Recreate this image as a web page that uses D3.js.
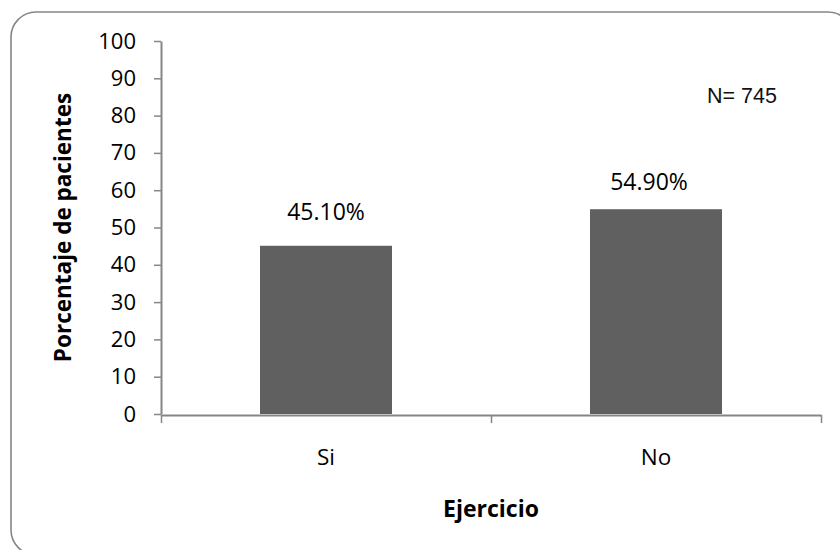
<!DOCTYPE html>
<html>
<head>
<meta charset="utf-8">
<script src="https://cdn.jsdelivr.net/npm/d3@7"></script>
<style>
  html, body { margin: 0; padding: 0; background: #fff; }
  svg { display: block; }
</style>
</head>
<body>
<svg id="chart" width="840" height="550"></svg>
<script>
// Chart data
const categories = ["Si", "No"];
const percentages = [45.1, 54.9];
const valueLabels = ["45.10%", "54.90%"];
const yTicks = [0, 10, 20, 30, 40, 50, 60, 70, 80, 90, 100];
const yTitle = "Porcentaje de pacientes";
const xTitle = "Ejercicio";
const sampleNote = "N= 745";

// Layout
const plot = { left: 161, right: 821, top: 41, bottom: 414 };
const labelNudge = [{ dx: 0, dy: 26 }, { dx: -7, dy: 19 }];
const axisColor = "#868686";
const barColor = "#606060";
const font = "'Open Sans', sans-serif";

const svg = d3.select("#chart");

// Outer rounded frame
svg.append("rect")
  .attr("x", 11).attr("y", 12)
  .attr("width", 842).attr("height", 543)
  .attr("rx", 25).attr("ry", 25)
  .attr("fill", "#fff")
  .attr("stroke", axisColor)
  .attr("stroke-width", 1.6);

const x = d3.scaleBand()
  .domain(categories)
  .range([plot.left, plot.right])
  .padding(0);

const y = d3.scaleLinear()
  .domain([0, 100])
  .range([plot.bottom, plot.top]);

const barWidth = x.bandwidth() * 0.4;

// Bars
svg.append("g").selectAll("rect")
  .data(categories)
  .join("rect")
  .attr("x", d => x(d) + (x.bandwidth() - barWidth) / 2)
  .attr("y", (d, i) => y(percentages[i]))
  .attr("width", barWidth)
  .attr("height", (d, i) => y(0) - y(percentages[i]))
  .attr("fill", barColor);

// Y axis
const yAxis = svg.append("g")
  .attr("transform", `translate(${plot.left},0)`)
  .call(d3.axisLeft(y).tickValues(yTicks).tickSize(7).tickPadding(18).tickSizeOuter(0));
yAxis.select(".domain").attr("stroke", axisColor).attr("stroke-width", 2);
yAxis.selectAll(".tick line").attr("stroke", axisColor).attr("stroke-width", 1.5);
yAxis.selectAll(".tick text")
  .attr("font-family", font).attr("font-size", 22).attr("fill", "#000");

// X axis: line with boundary ticks between categories
const xBoundary = d3.scaleLinear().domain([0, categories.length]).range([plot.left, plot.right]);
const xAxis = svg.append("g")
  .attr("transform", `translate(0,${plot.bottom + 1})`)
  .call(d3.axisBottom(xBoundary).tickValues(d3.range(categories.length + 1)).tickSize(8).tickFormat("").tickSizeOuter(0));
xAxis.select(".domain").attr("stroke", axisColor).attr("stroke-width", 2);
xAxis.selectAll(".tick line").attr("stroke", axisColor).attr("stroke-width", 1.5);

// Category labels
svg.append("g").selectAll("text")
  .data(categories)
  .join("text")
  .attr("x", d => x(d) + x.bandwidth() / 2)
  .attr("y", 465)
  .attr("text-anchor", "middle")
  .attr("font-family", font).attr("font-size", 22.5)
  .attr("fill", "#000")
  .text(d => d);

// Value labels above bars
svg.append("g").selectAll("text")
  .data(valueLabels)
  .join("text")
  .attr("x", (d, i) => x(categories[i]) + x.bandwidth() / 2 + labelNudge[i].dx)
  .attr("y", (d, i) => y(percentages[i]) - labelNudge[i].dy)
  .attr("text-anchor", "middle")
  .attr("font-family", font).attr("font-size", 23)
  .attr("fill", "#000")
  .text(d => d);

// Axis titles
svg.append("text")
  .attr("transform", `translate(71,${(plot.top + plot.bottom) / 2}) rotate(-90)`)
  .attr("text-anchor", "middle")
  .attr("font-family", font).attr("font-size", 22.5).attr("font-weight", "bold")
  .attr("fill", "#000")
  .text(yTitle);

svg.append("text")
  .attr("x", 491).attr("y", 517)
  .attr("text-anchor", "middle")
  .attr("font-family", font).attr("font-size", 23).attr("font-weight", "bold")
  .attr("fill", "#000")
  .text(xTitle);

// Sample size note
svg.append("text")
  .attr("x", 707).attr("y", 103)
  .attr("font-family", "'Liberation Sans', Arial, sans-serif").attr("font-size", 21.5)
  .attr("fill", "#111")
  .text(sampleNote);
</script>
</body>
</html>
